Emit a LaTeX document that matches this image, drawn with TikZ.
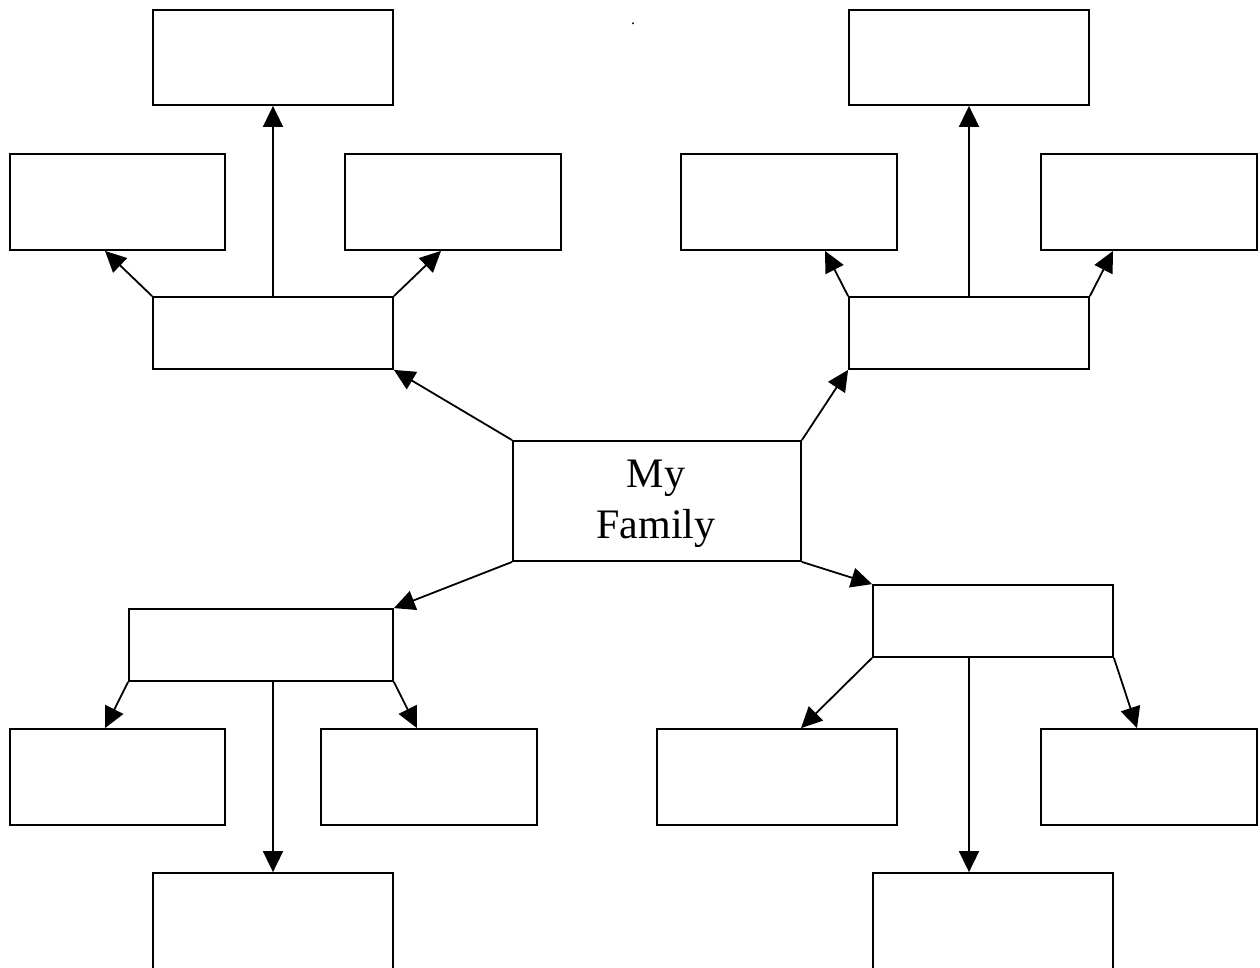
\documentclass[tikz,border=0pt]{standalone}
\usepackage{fontspec}
\setmainfont{Liberation Serif}
\usetikzlibrary{arrows.meta}
\begin{document}
\begin{tikzpicture}[x=1pt,y=-1pt,
  box/.style={draw=black, line width=1.8pt, inner sep=0pt, minimum width=#1},
  box/.default=240pt,
  tall/.style={minimum height=96pt},
  flat/.style={minimum height=72pt},
  conn/.style={line width=1.8pt, -{Triangle[length=21pt,width=20pt]}}]
\useasboundingbox (0,0) rectangle (1260,967);
\clip (0,0) rectangle (1260,967);
% centre
\node[box=288pt, minimum height=120pt] (c) at (657,501) {};
\node[align=center, inner sep=0pt, font=\fontsize{42}{51}\selectfont] (ct) at (656,504) {My\\Family};
% top-left group
\node[box, minimum height=95pt] (tlt) at (273,57.5) {};
\node[box=215pt, tall] (tll) at (117.5,202) {};
\node[box=216pt, tall] (tlr) at (453,202) {};
\node[box, flat] (tlm) at (273,333) {};
% top-right group
\node[box, minimum height=95pt] (trt) at (969,57.5) {};
\node[box=216pt, tall] (trl) at (789,202) {};
\node[box=216pt, tall] (trr) at (1149,202) {};
\node[box, flat] (trm) at (969,333) {};
% bottom-left group
\node[box=264pt, flat] (blm) at (261,645) {};
\node[box=215pt, tall] (bll) at (117.5,777) {};
\node[box=216pt, tall] (blr) at (429,777) {};
\node[box, minimum height=120pt] (blb) at (273,933) {};
% bottom-right group
\node[box, flat] (brm) at (993,621) {};
\node[box, tall] (brl) at (777,777) {};
\node[box=216pt, tall] (brr) at (1149,777) {};
\node[box, minimum height=120pt] (brb) at (993,933) {};
% stray dot
\node[inner sep=0pt, font=\fontsize{16}{16}\selectfont] (dot) at (633,24) {.};
% centre connectors
\draw[conn] (c.north west) -- (tlm.south east);
\draw[conn] (c.north east) -- (trm.south west);
\draw[conn] (c.south west) -- (blm.north east);
\draw[conn] (c.south east) -- (brm.north west);
% top-left
\draw[conn] (tlm.north) -- (tlt.south);
\draw[conn] (tlm.north west) -- ([xshift=-12.5pt]tll.south);
\draw[conn] (tlm.north east) -- ([xshift=-12pt]tlr.south);
% top-right
\draw[conn] (trm.north) -- (trt.south);
\draw[conn] (trm.north west) -- ([xshift=36pt]trl.south);
\draw[conn] (trm.north east) -- ([xshift=-36pt]trr.south);
% bottom-left
\draw[conn] (blm.south west) -- ([xshift=-12.5pt]bll.north);
\draw[conn] (blb.north |- blm.south) -- (blb.north);
\draw[conn] (blm.south east) -- ([xshift=-12pt]blr.north);
% bottom-right
\draw[conn] (brm.south west) -- ([xshift=24pt]brl.north);
\draw[conn] ([xshift=-24pt]brm.south) -- ([xshift=-24pt]brb.north);
\draw[conn] (brm.south east) -- ([xshift=-12pt]brr.north);
\end{tikzpicture}
\end{document}
